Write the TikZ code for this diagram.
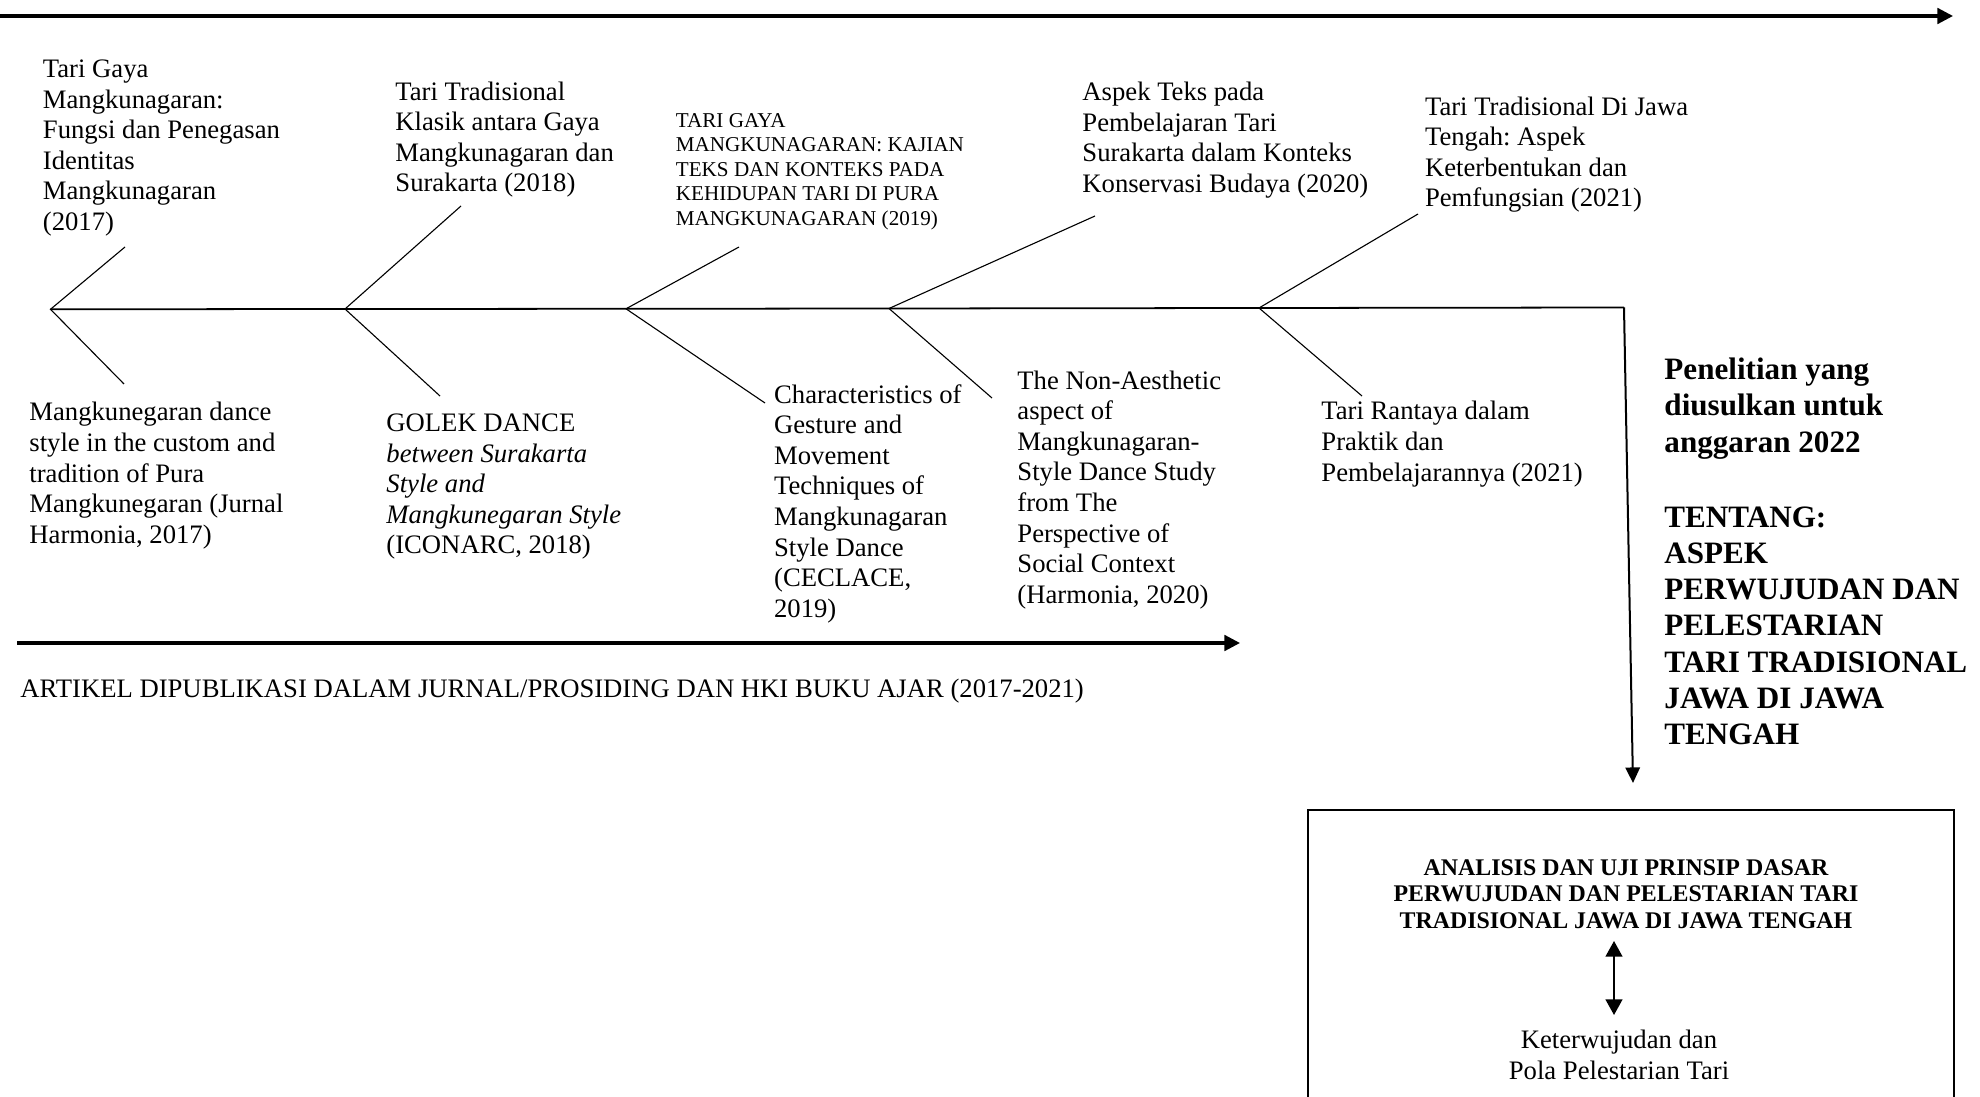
\documentclass[tikz,border=0pt]{standalone}
\usepackage{fontspec}
\setmainfont{Liberation Serif}
\usetikzlibrary{arrows.meta}
\begin{document}
\frenchspacing
\begin{tikzpicture}[x=0.45pt,y=-0.45pt,
  txt/.style={inner sep=0pt, anchor=base west, align=left, font=\fontsize{12}{13.75}\selectfont},
  smalltxt/.style={txt, font=\fontsize{9.5}{11.05}\selectfont},
  boldtxt/.style={txt, font=\fontsize{14}{16.3}\selectfont\bfseries},
  boxtitle/.style={inner sep=0pt, anchor=base, align=center, font=\fontsize{10.75}{12}\selectfont\bfseries},
  boxtxt/.style={inner sep=0pt, anchor=base, align=center, font=\fontsize{12}{13.75}\selectfont},
  bone/.style={line width=0.5pt},
  spineline/.style={line width=0.8pt},
  bigarrow/.style={line width=1.4pt, -{Triangle[length=7pt,width=7pt]}},
  downarrow/.style={line width=0.9pt, -{Triangle[length=7pt,width=6.5pt]}},
  dblarrow/.style={line width=0.9pt, {Triangle[length=7pt,width=7.5pt]}-{Triangle[length=7pt,width=7.5pt]}},
  framebox/.style={line width=1pt}
]
\useasboundingbox (0,0) rectangle (1980,1097);

% top timeline arrow
\coordinate (t0) at (0,16);
\coordinate (t1) at (1953,16);
\draw[bigarrow] (t0) -- (t1);

% spine vertices
\coordinate (v1) at (50.5,309.3);
\coordinate (v2) at (345,309);
\coordinate (v3) at (626,308.8);
\coordinate (v4) at (889,308.5);
\coordinate (v5) at (1259,308);
\coordinate (corner) at (1624,307.5);
\coordinate (vtip) at (1633,783);

\draw[spineline] (v1) -- (v2) -- (v3) -- (v4) -- (v5) -- (corner);
\draw[downarrow] (corner) -- (vtip);

% upper bones
\coordinate (u1) at (125,247);
\coordinate (u2) at (461,206);
\coordinate (u3) at (739,247);
\coordinate (u4) at (1095,216);
\coordinate (u5) at (1418,214);
% lower bones
\coordinate (d1) at (124,384);
\coordinate (d2) at (440,396);
\coordinate (d3) at (765,403);
\coordinate (d4) at (992,398);
\coordinate (d5) at (1362,396);

\draw[bone] (u1) -- (v1) -- (d1);
\draw[bone] (u2) -- (v2) -- (d2);
\draw[bone] (u3) -- (v3) -- (d3);
\draw[bone] (u4) -- (v4) -- (d4);
\draw[bone] (u5) -- (v5) -- (d5);

% upper texts (anchor = baseline of last line)
\node[txt] (ta) at (42.5,230.5) {Tari Gaya\\Mangkunagaran:\\Fungsi dan Penegasan\\Identitas\\Mangkunagaran\\(2017)};
\node[txt] (tb) at (395,191.7) {Tari Tradisional\\Klasik antara Gaya\\Mangkunagaran dan\\Surakarta (2018)};
\node[smalltxt] (tc) at (675.5,225.5) {TARI GAYA\\MANGKUNAGARAN: KAJIAN\\TEKS DAN KONTEKS PADA\\KEHIDUPAN TARI DI PURA\\MANGKUNAGARAN (2019)};
\node[txt] (td) at (1082,192.4) {Aspek Teks pada\\Pembelajaran Tari\\Surakarta dalam Konteks\\Konservasi Budaya (2020)};
\node[txt] (te) at (1424.6,206.7) {Tari Tradisional Di Jawa\\Tengah: Aspek\\Keterbentukan dan\\Pemfungsian (2021)};

% lower texts
\node[txt] (tf) at (29,543.2) {Mangkunegaran dance\\style in the custom and\\tradition of Pura\\Mangkunegaran (Jurnal\\Harmonia, 2017)};
\node[txt] (tg) at (386,553.9) {GOLEK DANCE\\\textit{between Surakarta}\\\textit{Style and}\\\textit{Mangkunegaran Style}\\(ICONARC, 2018)};
\node[txt] (th) at (773.7,617.2) {Characteristics of\\Gesture and\\Movement\\Techniques of\\Mangkunagaran\\Style Dance\\(CECLACE,\\2019)};
\node[txt] (ti) at (1017,603.2) {The Non-Aesthetic\\aspect of\\Mangkunagaran-\\Style Dance Study\\from The\\Perspective of\\Social Context\\(Harmonia, 2020)};
\node[txt] (tj) at (1321,481.1) {Tari Rantaya dalam\\Praktik dan\\Pembelajarannya (2021)};

% right bold text
\node[boldtxt] (tk) at (1664,744.5) {Penelitian yang\\diusulkan untuk\\anggaran 2022\\[17.5pt]TENTANG:\\ASPEK\\PERWUJUDAN DAN\\PELESTARIAN\\TARI TRADISIONAL\\JAWA DI JAWA\\TENGAH};

% bottom arrow and label
\coordinate (b0) at (17,643);
\coordinate (b1) at (1240,643);
\draw[bigarrow] (b0) -- (b1);
\node[txt] (label) at (20,698) {ARTIKEL DIPUBLIKASI DALAM JURNAL/PROSIDING DAN HKI BUKU AJAR (2017-2021)};

% box (cut at bottom)
\coordinate (bx0) at (1308,1100);
\coordinate (bx1) at (1308,810);
\coordinate (bx2) at (1954,810);
\coordinate (bx3) at (1954,1100);
\draw[framebox] (bx0) -- (bx1) -- (bx2) -- (bx3);

\node[boxtitle] (title) at (1626,928.5) {ANALISIS DAN UJI PRINSIP DASAR\\PERWUJUDAN DAN PELESTARIAN TARI\\TRADISIONAL JAWA DI JAWA TENGAH};
\coordinate (da) at (1614,941);
\coordinate (db) at (1614,1015);
\draw[dblarrow] (da) -- (db);
\node[boxtxt] (ket) at (1619,1079.5) {Keterwujudan dan\\Pola Pelestarian Tari};
\end{tikzpicture}
\end{document}
